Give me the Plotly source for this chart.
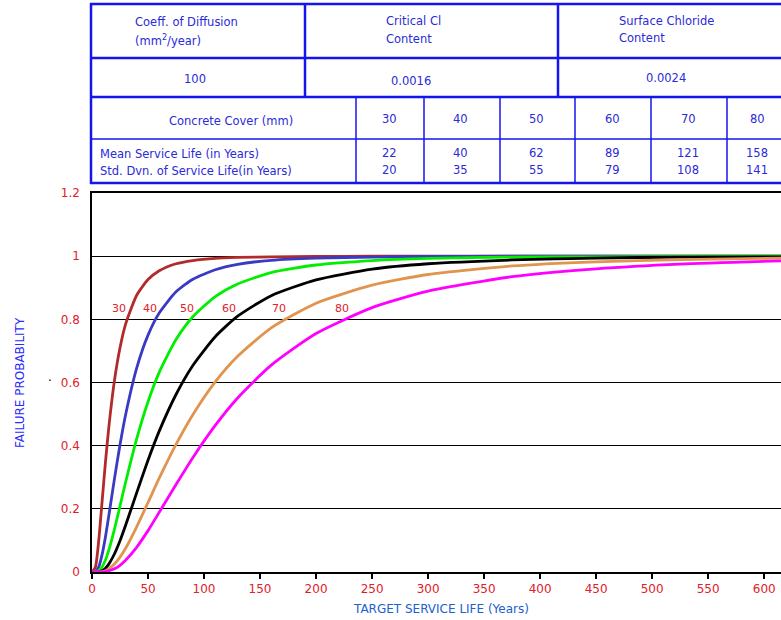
import plotly.graph_objects as go

# ---------------- data ----------------
years = [0, 3, 6, 9, 12, 15, 20, 25, 30, 40, 50, 60, 75, 90, 110, 130, 160,
         200, 250, 300, 375, 450, 525, 615]
p30 = [0, 0.015, 0.099, 0.223, 0.347, 0.458, 0.605, 0.710, 0.785, 0.877, 0.926,
       0.954, 0.976, 0.986, 0.993, 0.996, 0.998, 0.999, 1.0, 1.0, 1.0, 1.0, 1.0, 1.0]
p40 = [0, 0.001, 0.016, 0.055, 0.111, 0.178, 0.294, 0.403, 0.498, 0.647, 0.750,
       0.820, 0.887, 0.927, 0.957, 0.974, 0.987, 0.994, 0.997, 0.999, 1.0, 1.0, 1.0, 1.0]
p50 = [0, 0.0, 0.004, 0.016, 0.038, 0.069, 0.135, 0.209, 0.284, 0.423, 0.539,
       0.632, 0.736, 0.808, 0.872, 0.912, 0.948, 0.972, 0.986, 0.993, 0.997, 0.998, 0.999, 1.0]
p60 = [0, 0.0, 0.001, 0.004, 0.012, 0.025, 0.057, 0.099, 0.148, 0.252, 0.354,
       0.446, 0.562, 0.654, 0.745, 0.810, 0.875, 0.925, 0.959, 0.976, 0.988, 0.994, 0.997, 0.998]
p70 = [0, 0.0, 0.0, 0.001, 0.004, 0.010, 0.025, 0.047, 0.075, 0.144, 0.220,
       0.297, 0.404, 0.498, 0.602, 0.683, 0.773, 0.851, 0.908, 0.942, 0.969, 0.982, 0.989, 0.994]
p80 = [0, 0.0, 0.0, 0.0, 0.001, 0.004, 0.010, 0.021, 0.037, 0.079, 0.131,
       0.189, 0.277, 0.362, 0.464, 0.551, 0.655, 0.755, 0.837, 0.889, 0.935, 0.960, 0.975, 0.985]

covers = ["30", "40", "50", "60", "70", "80"]
mean_life = ["22", "40", "62", "89", "121", "158"]
std_life = ["20", "35", "55", "79", "108", "141"]
diffusion = "100"
critical_cl = "0.0016"
surface_cl = "0.0024"
x_ticks = [0, 50, 100, 150, 200, 250, 300, 350, 400, 450, 500, 550, 600]
y_ticks = [0, 0.2, 0.4, 0.6, 0.8, 1.0, 1.2]
y_tick_text = ["0", "0.2", "0.4", "0.6", "0.8", "1", "1.2"]

series = [p30, p40, p50, p60, p70, p80]
colors = ["#b22a2a", "#3a3ac4", "#00ee00", "#000000", "#e0944e", "#ff00ff"]

# ---------------- figure ----------------
W, H = 781, 620
L, R, T, B = 92, 781, 193, 572


def px(x):
    return (x - L) / (R - L)


def py(y):
    return (B - y) / (B - T)


fig = go.Figure()
for vals, col, name in zip(series, colors, covers):
    fig.add_trace(go.Scatter(x=years, y=vals, mode="lines", name=name,
                             line=dict(color=col, width=2.8, shape="spline", smoothing=0.6),
                             showlegend=False, hoverinfo="skip"))

red = "#e0202a"
blue_txt = "#2a2ad8"
blue_line = "#1414f0"
tick_font = dict(family="DejaVu Sans", size=12, color=red)

annotations = []
# curve labels
label_years = [24, 51.5, 84.5, 122, 167, 223]
for yv, name in zip(label_years, covers):
    annotations.append(dict(x=yv, y=0.833, xref="x", yref="y", text=name, showarrow=False,
                            xanchor="center", yanchor="middle",
                            font=dict(family="DejaVu Sans", size=11, color=red)))
# stray dot
annotations.append(dict(x=px(50), y=py(381), xref="paper", yref="paper", text="·",
                        showarrow=False, xanchor="center", yanchor="middle",
                        font=dict(family="DejaVu Sans", size=12, color="#000000")))
# axis titles
annotations.append(dict(x=px(441), y=py(609), xref="paper", yref="paper",
                        text="TARGET SERVICE LIFE (Years)", showarrow=False,
                        xanchor="center", yanchor="middle",
                        font=dict(family="DejaVu Sans", size=12, color="#2060d0")))
annotations.append(dict(x=px(20), y=py(383), xref="paper", yref="paper",
                        text="FAILURE PROBABILITY", showarrow=False, textangle=-90,
                        xanchor="center", yanchor="middle",
                        font=dict(family="DejaVu Sans", size=12, color="#2a2aff")))

tf = dict(family="DejaVu Sans", size=11.5, color=blue_txt)


def txt(x, y, s, xa="center"):
    annotations.append(dict(x=px(x), y=py(y), xref="paper", yref="paper", text=s,
                            showarrow=False, xanchor=xa, yanchor="middle", font=tf))


# upper table
txt(133, 22, "Coeff. of Diffusion", "left")
txt(133, 41, "(mm<sup>2</sup>/year)", "left")
txt(384, 21, "Critical Cl", "left")
txt(384, 39, "Content", "left")
txt(617, 21, "Surface Chloride", "left")
txt(617, 38, "Content", "left")
txt(195, 79, diffusion)
txt(411, 81, critical_cl)
txt(666, 78, surface_cl)
# lower table
txt(231, 121, "Concrete Cover (mm)")
txt(98, 154, "Mean Service Life (in Years)", "left")
txt(98, 171, "Std. Dvn. of Service Life(in Years)", "left")
col_x = [389, 460, 536, 612, 688, 757]
for cx, c, m, s in zip(col_x, covers, mean_life, std_life):
    txt(cx, 119, c)
    txt(cx, 153, m)
    txt(cx, 170, s)

shapes = []


def hline(y, x0, x1, w):
    shapes.append(dict(type="line", xref="paper", yref="paper", x0=px(x0), x1=px(x1),
                       y0=py(y), y1=py(y), line=dict(color=blue_line, width=w)))


def vline(x, y0, y1, w):
    shapes.append(dict(type="line", xref="paper", yref="paper", x0=px(x), x1=px(x),
                       y0=py(y0), y1=py(y1), line=dict(color=blue_line, width=w)))


hline(4, 90, 782, 2.5)
hline(58, 90, 782, 2.5)
hline(97, 90, 782, 2.5)
for xv in [91, 305, 558]:
    vline(xv, 3, 97, 2.5)
hline(139, 90, 782, 1.5)
hline(183, 90, 782, 2.5)
vline(91, 97, 184, 2.5)
for xv in [356, 424, 500, 575, 651, 727]:
    vline(xv, 97, 183, 1.5)

fig.update_layout(
    width=W, height=H,
    margin=dict(l=L, r=W - R, t=T, b=H - B, pad=0),
    paper_bgcolor="white", plot_bgcolor="white",
    showlegend=False,
    annotations=annotations, shapes=shapes,
    xaxis=dict(range=[0, 615], tickvals=x_ticks, showgrid=False, zeroline=False,
               showline=True, linecolor="black", linewidth=1.5, mirror=True,
               ticks="outside", ticklen=5, tickcolor="black", tickwidth=1.5,
               tickfont=tick_font),
    yaxis=dict(range=[0, 1.2], tickvals=y_ticks, ticktext=y_tick_text, showgrid=True,
               gridcolor="black", gridwidth=1.2, zeroline=False,
               showline=True, linecolor="black", linewidth=1.5,
               ticks="", tickfont=tick_font, ticklabelstandoff=8),
)

fig.write_html("out.html",
               config={"displayModeBar": False},
               post_script="document.body.style.margin='0px';"
                           "document.body.style.overflow='hidden';")
